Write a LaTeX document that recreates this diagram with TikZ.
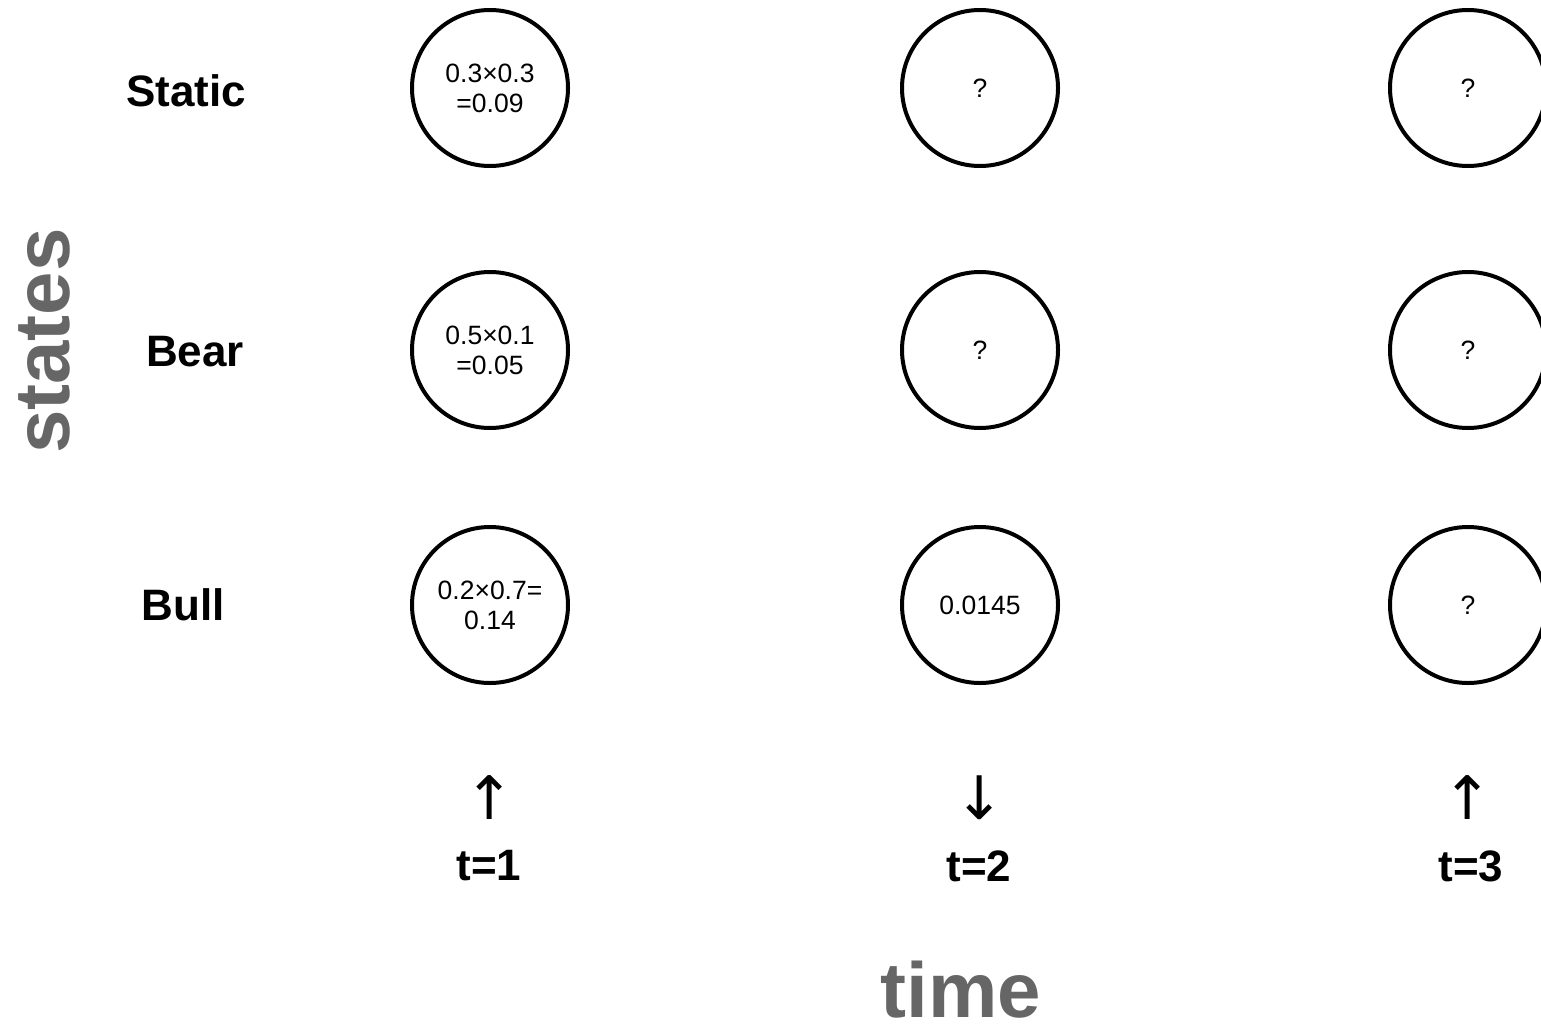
\documentclass[tikz,border=0pt]{standalone}
\usepackage{fontspec}
\setmainfont{Liberation Sans}
\newfontfamily\arrowfont{DejaVu Sans}
\begin{document}
\begin{tikzpicture}[x=1pt,y=-1pt,
  state/.style={circle,draw=black,line width=4pt,minimum size=156pt,inner sep=0pt,
    align=center,font=\fontsize{26.5}{30}\selectfont},
  rowlabel/.style={font=\fontsize{44}{50}\selectfont\bfseries},
  steplabel/.style={font=\fontsize{44}{50}\selectfont\bfseries},
  dirarrow/.style={font=\fontsize{60}{66}\selectfont\arrowfont},
  axislabel/.style={text=black!60,inner sep=0pt,font=\fontsize{78}{90}\selectfont\bfseries}]
\useasboundingbox (0,0) rectangle (1541,1025);
\clip (0,0) rectangle (1541,1025);

% axis captions
\node[axislabel,rotate=90,anchor=base] (states) at (69,341) {states};
\node[axislabel,anchor=base] (time) at (961,1017) {time};

% row captions
\node[rowlabel] (lstatic) at (186,91) {Static};
\node[rowlabel] (lbear) at (195,352) {Bear};
\node[rowlabel] (lbull) at (183,605) {Bull};

% trellis of states
\node[state] (s1) at (490,88) {0.3×0.3\\=0.09};
\node[state] (s2) at (980,88) {?};
\node[state] (s3) at (1468,88) {?};
\node[state] (b1) at (490,350) {0.5×0.1\\=0.05};
\node[state] (b2) at (980,350) {?};
\node[state] (b3) at (1468,350) {?};
\node[state] (u1) at (490,605) {0.2×0.7=\\0.14};
\node[state] (u2) at (980,605) {0.0145};
\node[state] (u3) at (1468,605) {?};

% observations
\node[dirarrow] (o1) at (490,798) {↑};
\node[dirarrow] (o2) at (980,798) {↓};
\node[dirarrow] (o3) at (1468,798) {↑};

% time steps
\node[steplabel] (t1) at (489,866) {t=1};
\node[steplabel] (t2) at (979,866) {t=2};
\node[steplabel] (t3) at (1471,866) {t=3};
\end{tikzpicture}
\end{document}
